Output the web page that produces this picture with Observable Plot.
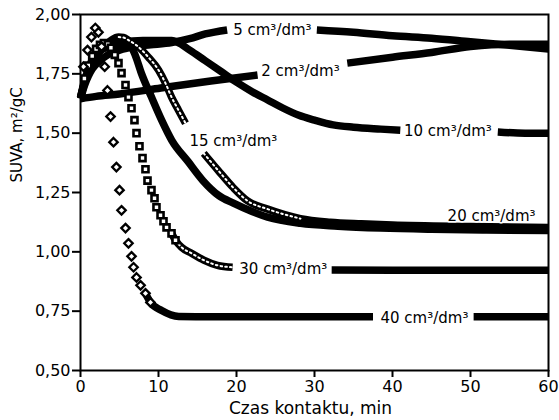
<!DOCTYPE html>
<html><head><meta charset="utf-8">
<script src="https://cdn.jsdelivr.net/npm/d3@7"></script>
<script src="https://cdn.jsdelivr.net/npm/@observablehq/plot@0.6"></script>
<style>body{margin:0;background:#fff}</style>
</head><body><div id="chart"></div>
<script>
// ---- data (time in min, SUVA in m2/gC); null = gap behind a label
const doses = ["2", "5", "10", "15", "20", "30", "40"];

const time2 = [0, 2, 5, 10.3, 16.7, 22.7, 28, 34.2, 40, 45, 50, 55, 60];
const suva2 = [1.645, 1.655, 1.665, 1.69, 1.72, 1.745, null, 1.795, 1.82, 1.84, 1.865, 1.875, 1.875];

const time5 = [0, 0.5, 1, 1.5, 2.3, 3.5, 5, 7, 9, 11.7, 14, 16, 18.8, 24, 30.3, 35, 40, 45, 50, 55, 60];
const suva5 = [1.645, 1.70, 1.74, 1.77, 1.80, 1.83, 1.85, 1.865, 1.872, 1.882, 1.898, 1.918, 1.935, null, 1.935, 1.925, 1.91, 1.90, 1.885, 1.87, 1.855];

const time10 = [0, 0.4, 0.8, 1.4, 2.3, 3.6, 5.3, 8, 11.7, 14, 16, 18, 20, 22, 24, 26, 28, 30, 32.4, 35, 38.5, 41, 47, 53.5, 57, 60];
const suva10 = [1.65, 1.70, 1.735, 1.795, 1.84, 1.865, 1.88, 1.89, 1.89, 1.85, 1.805, 1.76, 1.715, 1.675, 1.64, 1.605, 1.575, 1.555, 1.535, 1.525, 1.517, 1.512, null, 1.505, 1.50, 1.50];

const time15 = [0, 0.5, 1, 1.5, 2, 2.5, 3, 3.5, 4, 4.9, 5.5, 6.15, 7.44, 8.7, 10, 10.9, 11.67, 12.56, 13.46, 14.6, 15.8, 17.6, 19.6, 21.4, 24, 28.2, 32, 36, 40, 50, 60];
const suva15 = [1.65, 1.71, 1.755, 1.79, 1.82, 1.845, 1.865, 1.88, 1.893, 1.905, 1.903, 1.892, 1.863, 1.82, 1.766, 1.71, 1.652, 1.597, 1.542, null, 1.415, 1.345, 1.27, 1.215, 1.18, 1.14, 1.125, 1.118, 1.113, 1.107, 1.103];

const time20 = [0, 0.5, 1, 1.5, 2, 3, 4, 5, 6.15, 7, 7.8, 9.1, 10.4, 11.7, 13.8, 15.7, 17.7, 19.6, 22, 24, 28.2, 33, 38.5, 45, 52, 60];
const suva20 = [1.65, 1.72, 1.77, 1.81, 1.84, 1.87, 1.885, 1.89, 1.88, 1.83, 1.753, 1.652, 1.555, 1.47, 1.38, 1.30, 1.238, 1.205, 1.17, 1.146, 1.12, 1.108, 1.10, 1.095, 1.092, 1.09];

const time30 = [0, 0.5, 1, 1.5, 2, 2.5, 3, 3.5, 3.9, 4.4, 4.87, 5.26, 5.77, 6.15, 6.54, 6.92, 7.18, 7.56, 7.95, 8.33, 8.59, 9.1, 9.49, 9.74, 10.26, 10.64, 11.03, 11.67, 12.18, 12.95, 14.23, 15.8, 17.56, 19.5, 26, 32.2, 40, 50, 60];
const suva30 = [1.65, 1.73, 1.785, 1.825, 1.855, 1.872, 1.88, 1.875, 1.86, 1.83, 1.795, 1.753, 1.703, 1.652, 1.605, 1.555, 1.50, 1.445, 1.395, 1.348, 1.30, 1.26, 1.226, 1.188, 1.154, 1.129, 1.103, 1.078, 1.049, 1.019, 0.994, 0.965, 0.943, 0.935, null, 0.923, 0.922, 0.922, 0.922];

const time40 = [0.38, 0.9, 1.4, 1.9, 2.3, 2.7, 3.1, 3.46, 3.85, 4.23, 4.6, 5.0, 5.26, 5.77, 6.15, 6.54, 6.8, 7.18, 7.7, 8.33, 8.97, 10.4, 12.6, 17, 25, 37.5, 44, 50.4, 60];
const suva40 = [1.78, 1.85, 1.905, 1.943, 1.925, 1.865, 1.78, 1.68, 1.57, 1.462, 1.357, 1.26, 1.175, 1.10, 1.036, 0.981, 0.935, 0.892, 0.859, 0.825, 0.787, 0.753, 0.728, 0.726, 0.726, 0.726, null, 0.726, 0.726];

const labelTime = [28.2, 24.6, 47.1, 19.6, 52.7, 26.0, 44.1];
const labelSuva = [1.762, 1.935, 1.508, 1.468, 1.15, 0.928, 0.721];

const xTicks = [0, 10, 20, 30, 40, 50, 60];
const yTicks = [0.5, 0.75, 1.0, 1.25, 1.5, 1.75, 2.0];

// ---- rendering styles (not data)
const times = {"2": time2, "5": time5, "10": time10, "15": time15, "20": time20, "30": time30, "40": time40};
const suvas = {"2": suva2, "5": suva5, "10": suva10, "15": suva15, "20": suva20, "30": suva30, "40": suva40};
const look = {
  "30": {dotsFrom: 0.5, dotsTo: 12.2, lineFrom: 11.67, symbol: "square", texture: [12.18, 19.5]},
  "40": {dotsFrom: 0.3, dotsTo: 8.97, lineFrom: 8.33, symbol: d3.symbolDiamond2 || "diamond"},
  "15": {texture: [4.9, 29]}
};

const rows = doses.flatMap(d => times[d].map((t, i) => ({dose: d, t, v: suvas[d][i]})));
const lineRows = rows.filter(r => !look[r.dose] || look[r.dose].lineFrom === undefined || r.t >= look[r.dose].lineFrom);
const textureRows = rows.filter(r => look[r.dose] && look[r.dose].texture && r.t >= look[r.dose].texture[0] && r.t <= look[r.dose].texture[1]);
const dotRows = sym => rows.filter(r => r.v != null && look[r.dose] && look[r.dose].symbol === sym && r.t >= look[r.dose].dotsFrom && r.t <= look[r.dose].dotsTo);
const labels = doses.map((d, i) => ({text: `${d} cm³/dm³`, t: labelTime[i], v: labelSuva[i]}));

const fmt = d => d.toFixed(2).replace(".", ",");
const font = '"DejaVu Sans", Verdana, sans-serif';

const chart = Plot.plot({
  width: 559, height: 420,
  marginLeft: 80, marginRight: 11, marginTop: 14, marginBottom: 50,
  style: {fontFamily: font, background: "white", color: "black"},
  x: {domain: [0, 60]},
  y: {domain: [0.5, 2.0]},
  marks: [
    Plot.line(lineRows, {x: "t", y: "v", z: "dose", stroke: "black", strokeWidth: 7.5, curve: "monotone-x", strokeLinecap: "butt", strokeLinejoin: "round"}),
    Plot.line(textureRows, {x: "t", y: "v", z: "dose", stroke: "white", strokeWidth: 2, strokeDasharray: "1.6 3.2", curve: "monotone-x"}),
    Plot.dot(dotRows("square"), {x: "t", y: "v", symbol: "square", r: 3.4, stroke: "black", fill: "white", strokeWidth: 2.6}),
    Plot.dot(dotRows(look["40"].symbol), {x: "t", y: "v", symbol: look["40"].symbol, r: 3.8, stroke: "black", fill: "white", strokeWidth: 2.3}),
    Plot.text(labels, {x: "t", y: "v", text: "text", fontSize: 15, fill: "black", stroke: "white", strokeWidth: 3, textAnchor: "middle"}),
    Plot.frame({stroke: "black", strokeWidth: 2}),
    Plot.axisX({ticks: xTicks, tickSize: 7, tickPadding: 3, fontSize: 16, strokeWidth: 2, label: null}),
    Plot.axisY({ticks: yTicks, tickSize: 8, tickPadding: 2, fontSize: 16, strokeWidth: 2, tickFormat: fmt, label: null}),
    Plot.text(["SUVA, m²/gC"], {frameAnchor: "left", text: d => d, rotate: -90, dx: -69, dy: -10, lineAnchor: "top", fontSize: 15, fill: "black"}),
    Plot.text(["Czas kontaktu, min"], {frameAnchor: "bottom", text: d => d, dx: -4, dy: 31, lineAnchor: "top", fontSize: 17, fill: "black"})
  ]
});
document.getElementById("chart").appendChild(chart);
</script>
</body></html>
